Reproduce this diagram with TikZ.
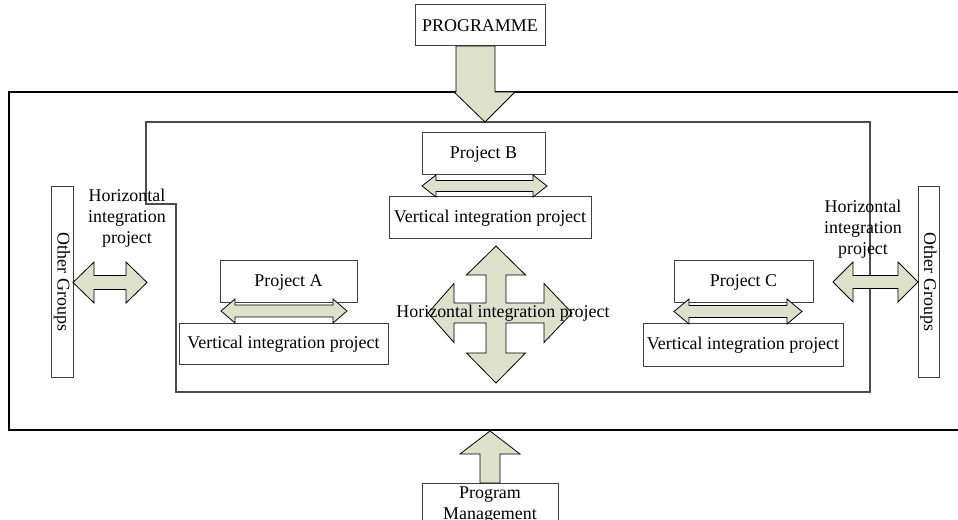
\documentclass[tikz,border=0pt]{standalone}
\usepackage{fontspec}
\setmainfont{Liberation Serif}
\begin{document}
\begin{tikzpicture}[x=1bp,y=-1bp,
  every node/.style={font=\fontsize{18}{21}\selectfont},
  box/.style={draw=black!75, line width=1bp, fill=white, inner sep=0pt, align=center},
  blk/.style={draw=black, line width=0.8bp, fill=arrowfill, line join=miter},
  frame/.style={draw=black, line width=1.2bp},
  inner/.style={draw=black!70, line width=1.2bp}]
\definecolor{arrowfill}{RGB}{221,224,203}
\useasboundingbox (0,0) rectangle (958,520);
\newcommand{\hdarr}[6]{%
  \draw[blk] (#1,#3) -- ({#1+#4},{#3-#5}) -- ({#1+#4},{#3-#6}) -- ({#2-#4},{#3-#6}) -- ({#2-#4},{#3-#5}) -- (#2,#3) -- ({#2-#4},{#3+#5}) -- ({#2-#4},{#3+#6}) -- ({#1+#4},{#3+#6}) -- ({#1+#4},{#3+#5}) -- cycle;}
% outer frame (open at right, runs off the page)
\draw[frame] (970,92) -- (9,92) -- (9,430) -- (970,430);
% inner frame
\draw[inner] (146,122) -- (870,122) -- (870,392) -- (176,392) -- (176,204) -- (146,204) -- cycle;
% top box and arrow
\node[box, minimum width=130bp, minimum height=41bp] (prog) at (480,25.5) {PROGRAMME};
\draw[blk] (456,46) -- (495,46) -- (495,92) -- (515,92) -- (485,122) -- (454,92) -- (456,92) -- cycle;
% project B
\node[box, minimum width=123bp, minimum height=42bp] (pb) at (483.5,154) {Project B};
\node[box, minimum width=202bp, minimum height=42bp] (vb) at (490,218) {Vertical integration project};
\hdarr{422}{547}{186}{14}{11}{5.5}
% project A
\node[box, minimum width=137bp, minimum height=42bp] (pa) at (288.5,282) {Project A};
\node[box, minimum width=209bp, minimum height=40bp] (va) at (283.5,344) {Vertical integration project};
\hdarr{221}{347}{311}{14}{12}{6}
% project C
\node[box, minimum width=139bp, minimum height=42bp] (pc) at (743.5,282) {Project C};
\node[box, minimum width=200bp, minimum height=42bp] (vc) at (743,345) {Vertical integration project};
\hdarr{674}{802}{311.5}{15}{12.5}{6}
% four-way arrow
\draw[blk] (496,246) -- (525.5,275) -- (506,275) -- (506,303) -- (544,303) -- (544,283.5) -- (572,313) -- (544,342.5) -- (544,323) -- (506,323) -- (506,353) -- (525.5,353) -- (496,383) -- (466.5,353) -- (486,353) -- (486,323) -- (454,323) -- (454,342.5) -- (428,313) -- (454,283.5) -- (454,303) -- (486,303) -- (486,275) -- (466.5,275) -- cycle;
\node (hc) at (503,313) {Horizontal integration project};
% other groups
\node[box, minimum width=190bp, minimum height=22bp, rotate=-90] (ogl) at (62,282) {Other Groups};
\node[box, minimum width=190bp, minimum height=21bp, rotate=-90] (ogr) at (928.5,282) {Other Groups};
\hdarr{73}{147}{282.5}{21}{20.5}{7}
\hdarr{833}{918}{282}{20}{20}{6.5}
\node[align=center] (hl) at (127,218) {Horizontal\\integration\\project};
\node[align=center] (hr) at (863,229) {Horizontal\\integration\\project};
% bottom
\node[box, minimum width=136bp, minimum height=60bp, anchor=north] (pm) at (490,483) {};
\node[align=center, anchor=north] (pmt) at (490,483) {Program\\Management};
\draw[blk] (480,483) -- (480,454) -- (460,454) -- (490,431) -- (520,454) -- (500,454) -- (500,483) -- cycle;
\end{tikzpicture}
\end{document}
